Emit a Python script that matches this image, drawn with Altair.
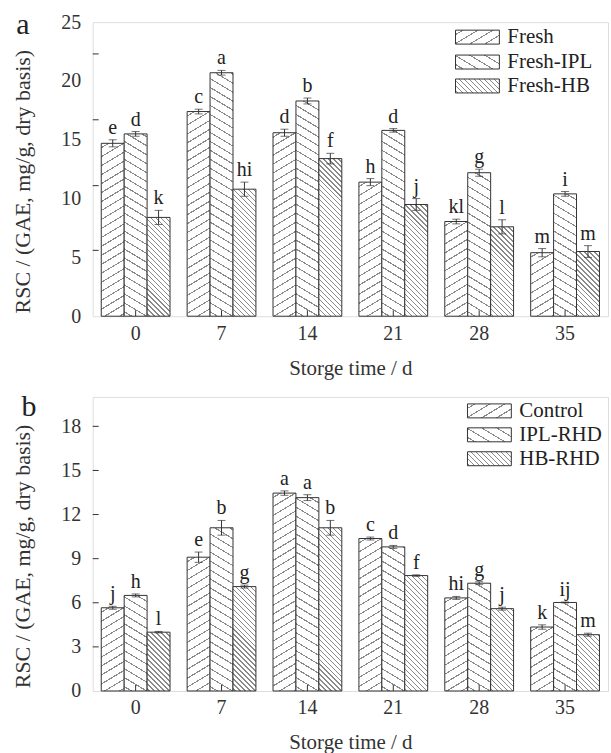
import altair as alt
import pandas as pd

# ---------------- data ----------------
days = ["0", "7", "14", "21", "28", "35"]

series_a = ["Fresh", "Fresh-IPL", "Fresh-HB"]
a_fresh = [14.7, 17.4, 15.6, 11.4, 8.05, 5.4]
a_fresh_err = [0.3, 0.2, 0.3, 0.3, 0.2, 0.35]
a_ipl = [15.5, 20.7, 18.3, 15.8, 12.2, 10.4]
a_ipl_err = [0.2, 0.2, 0.25, 0.15, 0.3, 0.2]
a_hb = [8.4, 10.8, 13.4, 9.5, 7.6, 5.5]
a_hb_err = [0.6, 0.6, 0.45, 0.5, 0.6, 0.5]
a_let_fresh = ["e", "c", "d", "h", "kl", "m"]
a_let_ipl = ["d", "a", "b", "d", "g", "i"]
a_let_hb = ["k", "hi", "f", "j", "l", "m"]
a_yticks = [5.6, 11.1, 16.7, 22.3]
a_ylabels = [0, 5, 10, 15, 20, 25]

series_b = ["Control", "IPL-RHD", "HB-RHD"]
b_control = [5.66, 9.1, 13.46, 10.37, 6.33, 4.35]
b_control_err = [0.1, 0.35, 0.15, 0.1, 0.1, 0.15]
b_ipl = [6.5, 11.1, 13.15, 9.8, 7.33, 6.02]
b_ipl_err = [0.1, 0.5, 0.2, 0.1, 0.1, 0.03]
b_hb = [4.0, 7.1, 11.1, 7.85, 5.6, 3.83]
b_hb_err = [0.05, 0.1, 0.5, 0.05, 0.1, 0.1]
b_let_control = ["j", "e", "a", "c", "hi", "k"]
b_let_ipl = ["h", "b", "a", "d", "g", "ij"]
b_let_hb = ["l", "g", "b", "f", "j", "m"]
b_yticks = [3, 6, 9, 12, 15, 18]
b_ylabels = [0, 3, 6, 9, 12, 15, 18]

Y_TITLE = "RSC / (GAE, mg/g, dry basis)"
X_TITLE = "Storge time / d"

# ---------------- style ----------------
FONT = "Liberation Serif"
INK = "#333333"
HATCH = "#8a8a8a"
W_PLOT, H_PLOT = 517, 295
BAR_W = 23
L_SPAN = 330.0

# hatch definitions per series position: (direction, slope, period, thickness)
HATCH_DEF = [("/", 0.6, 9.0, 1.1), ("\\", 0.6, 9.0, 1.1), ("\\", 1.0, 5.0, 1.0)]


def stops_list(alpha, period, thick):
    w = (1 + alpha * alpha) ** 0.5 * thick
    stops = [(0.0, "#ffffff")]
    s = period / 2
    while s + w / 2 < L_SPAN:
        a = round((s - w / 2) / L_SPAN, 5)
        b = round((s + w / 2) / L_SPAN, 5)
        stops += [(a, "#ffffff"), (a, HATCH), (b, HATCH), (b, "#ffffff")]
        s += period
    stops.append((1.0, "#ffffff"))
    return stops


def grad_expr(kind, alpha, period, thick, ppu):
    H = f"(datum.value*{ppu})"
    den = f"({alpha*alpha*BAR_W*BAR_W}+{H}*{H})"
    a = f"({alpha*BAR_W}*{L_SPAN}/{den})"
    b = f"({H}*{L_SPAN}/{den})"
    if kind == "/":
        x1, y1, x2, y2 = "0", "0", a, b
    else:
        x1, y1, x2, y2 = "0", "1", a, f"(1-{b})"
    st = ",".join("{offset:%s,color:'%s'}" % (o, c) for o, c in stops_list(alpha, period, thick))
    return "({gradient:'linear',x1:%s,y1:%s,x2:%s,y2:%s,stops:[%s]})" % (x1, y1, x2, y2, st)


def grad_dict(kind, alpha, period, thick, W, H):
    den = alpha * alpha * W * W + H * H
    a = alpha * W * L_SPAN / den
    b = H * L_SPAN / den
    if kind == "/":
        x1, y1, x2, y2 = 0, 0, a, b
    else:
        x1, y1, x2, y2 = 0, 1, a, 1 - b
    return {"gradient": "linear", "x1": x1, "y1": y1, "x2": x2, "y2": y2,
            "stops": [{"offset": o, "color": c} for o, c in stops_list(alpha, period, thick)]}


def make_df(series, vals, errs, lets):
    rows = []
    for s, v, e, l in zip(series, vals, errs, lets):
        for d, vv, ee, ll in zip(days, v, e, l):
            rows.append({"day": d, "series": s, "value": vv, "lo": vv - ee, "hi": vv + ee, "letter": ll})
    return pd.DataFrame(rows)


def panel(df, series, ymax, ylabels, yticks, letter, letter_xy, leg_x, leg_rows, spacer=False):
    ppu = H_PLOT / ymax
    xaxis = alt.Axis(title=X_TITLE, labelAngle=0, ticks=False, domain=False, labelPadding=7,
                     titlePadding=14, labelFontSize=20, titleFontSize=21, labelColor=INK,
                     titleColor=INK, labelFont=FONT, titleFont=FONT, titleFontWeight="normal")
    yaxis = alt.Axis(title=Y_TITLE, values=ylabels, ticks=False, domain=False, grid=False,
                     labelPadding=12, titlePadding=26, labelFontSize=20, titleFontSize=22,
                     titleY=H_PLOT / 2 + 12,
                     labelColor=INK, titleColor=INK, labelFont=FONT, titleFont=FONT,
                     titleFontWeight="normal")
    xenc = alt.X("day:N", sort=days, scale=alt.Scale(paddingInner=0.2, paddingOuter=0.1), axis=xaxis)

    def yenc(f):
        return alt.Y(f"{f}:Q", scale=alt.Scale(domain=[0, ymax], nice=False, zero=True), axis=yaxis)

    base = alt.Chart(df)
    layers = []
    for i, s in enumerate(series):
        k, al, p, th = HATCH_DEF[i]
        dx = (i - 1) * BAR_W
        sub = base.transform_filter(alt.datum.series == s)
        bars = sub.transform_calculate(grad=grad_expr(k, al, p, th, ppu)).mark_bar(
            stroke=INK, strokeWidth=1, width=BAR_W, xOffset=dx).encode(
            x=xenc, y=yenc("value"), fill=alt.Fill("grad:N", scale=None))
        stems = sub.mark_rule(color=INK, strokeWidth=1, xOffset=dx).encode(
            x=xenc, y=yenc("lo"), y2="hi:Q")
        cap_lo = sub.mark_tick(color=INK, thickness=1, size=8, xOffset=dx).encode(x=xenc, y=yenc("lo"))
        cap_hi = sub.mark_tick(color=INK, thickness=1, size=8, xOffset=dx).encode(x=xenc, y=yenc("hi"))
        letters = sub.mark_text(baseline="bottom", dy=-2, xOffset=dx, font=FONT, fontSize=20,
                                color="#222222").encode(x=xenc, y=yenc("hi"), text="letter:N")
        layers += [bars, stems, cap_lo, cap_hi, letters]

    xt = alt.Chart(pd.DataFrame({"day": days})).mark_rule(color=INK).encode(
        x=xenc, y=alt.value(H_PLOT), y2=alt.value(H_PLOT - 6))
    yt = alt.Chart(pd.DataFrame({"v": yticks})).mark_rule(color=INK).encode(
        x=alt.value(0), x2=alt.value(6), y=yenc("v"))
    layers += [xt, yt]

    for i, name in enumerate(series):
        ry = leg_rows[i]
        k, al, p, th = HATCH_DEF[i]
        sw = alt.Chart(pd.DataFrame({"name": [name]})).mark_rect(stroke=INK, strokeWidth=1).encode(
            x=alt.value(leg_x), x2=alt.value(leg_x + 44), y=alt.value(ry), y2=alt.value(ry + 14),
            fill=alt.value(grad_dict(k, al, p, th, 44, 14)))
        tx = alt.Chart(pd.DataFrame({"name": [name]})).mark_text(
            align="left", baseline="middle", font=FONT, fontSize=21, color="#222222").encode(
            x=alt.value(leg_x + 52), y=alt.value(ry + 7), text="name:N")
        layers += [sw, tx]

    lt = alt.Chart(pd.DataFrame({"t": [letter]})).mark_text(
        align="center", baseline="alphabetic", font=FONT, fontSize=30, color="#222222").encode(
        x=alt.value(letter_xy[0]), y=alt.value(letter_xy[1]), text="t:N")
    layers.append(lt)

    if spacer:
        sp = alt.Chart(pd.DataFrame({"t": [0]})).mark_rect(opacity=0).encode(
            x=alt.value(-92), x2=alt.value(0), y=alt.value(-20), y2=alt.value(0))
        layers.append(sp)

    return alt.layer(*layers).properties(width=W_PLOT, height=H_PLOT)


df_a = make_df(series_a, [a_fresh, a_ipl, a_hb], [a_fresh_err, a_ipl_err, a_hb_err],
               [a_let_fresh, a_let_ipl, a_let_hb])
df_b = make_df(series_b, [b_control, b_ipl, b_hb], [b_control_err, b_ipl_err, b_hb_err],
               [b_let_control, b_let_ipl, b_let_hb])

top = panel(df_a, series_a, 25, a_ylabels, a_yticks, "a", (-70, 12), 364, [8, 33, 57], spacer=True)
bottom = panel(df_b, series_b, 20, b_ylabels, b_yticks, "b", (-64, 19), 376, [7, 31, 55])

chart = alt.vconcat(top, bottom, spacing=81).properties(
    bounds="flush", padding={"left": 0, "top": 0, "right": 2, "bottom": 5}
).configure_view(stroke=INK, strokeWidth=1).configure(font=FONT)

chart.save("out.html", embed_options={"renderer": "svg", "actions": False})
